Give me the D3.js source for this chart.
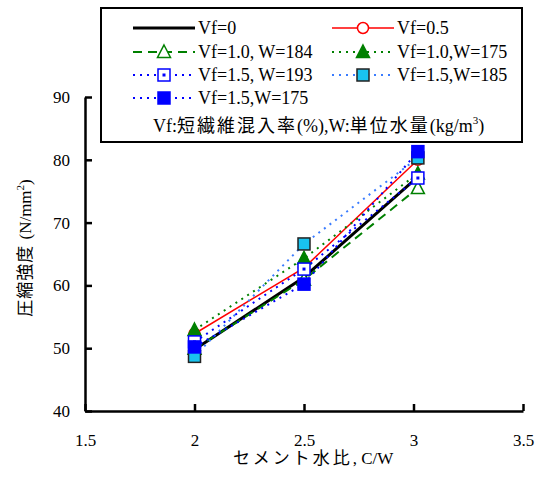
<!DOCTYPE html>
<html>
<head>
<meta charset="utf-8">
<script src="https://cdn.jsdelivr.net/npm/d3@7"></script>
<style>
body { margin: 0; background: #fff; }
text { font-family: "Liberation Serif", "Noto Sans CJK JP", serif; fill: #000; }
</style>
</head>
<body>
<svg class="chart" width="542" height="481"></svg>
<script>
// C/W values
var cw = [2.0, 2.5, 3.02];
var xTicks = [1.5, 2, 2.5, 3, 3.5];
var yTicks = [40, 50, 60, 70, 80, 90];

var seriesNames = ["Vf=0", "Vf=0.5", "Vf=1.0, W=184", "Vf=1.0,W=175", "Vf=1.5, W=193", "Vf=1.5,W=185", "Vf=1.5,W=175"];
var vf0      = [49.8, 61.3, 77.3];
var vf05     = [52.3, 62.8, 80.0];
var vf10w184 = [49.9, 60.9, 75.5];
var vf10w175 = [52.9, 64.3, 77.8];
var vf15w193 = [51.0, 62.6, 77.1];
var vf15w185 = [48.7, 66.6, 80.3];
var vf15w175 = [50.2, 60.2, 81.3];

var margin = {left: 85, right: 19, top: 97, bottom: 70};
var width = 542 - margin.left - margin.right;
var height = 481 - margin.top - margin.bottom;

var x = d3.scaleLinear().domain([1.5, 3.5]).range([0, width]);
var y = d3.scaleLinear().domain([40, 90]).range([height, 0]);

var styles = [
	{data: vf0,      color: "#000", width: 3,   dash: null,  marker: "none"},
	{data: vf05,     color: "#ff0000", width: 1.5, dash: null, marker: "circle", fill: "#fff"},
	{data: vf10w184, color: "#008000", width: 2, dash: "9,6", marker: "triangle", fill: "#fff"},
	{data: vf10w175, color: "#008000", width: 2, dash: "2,5", marker: "triangle", fill: "#008000"},
	{data: vf15w193, color: "#0000ff", width: 2, dash: "2,5", marker: "squareDot", fill: "#fff"},
	{data: vf15w185, color: "#3a7cff", width: 2, dash: "2,5", marker: "square", fill: "#19c3ef", stroke: "#222"},
	{data: vf15w175, color: "#0000ff", width: 2, dash: "2,5", marker: "square", fill: "#0000ff"}
];

var chart = d3.select(".chart");
var g = chart.append("g").attr("transform", "translate(" + margin.left + "," + margin.top + ")");

function drawMarker(sel, s, cx, cy) {
	if (s.marker == "circle") {
		sel.append("circle").attr("cx", cx).attr("cy", cy).attr("r", 5.5)
			.attr("fill", s.fill).attr("stroke", s.color).attr("stroke-width", 1.5);
	} else if (s.marker == "triangle") {
		sel.append("path")
			.attr("d", "M" + cx + "," + (cy - 7) + "L" + (cx + 6.5) + "," + (cy + 5.5) + "L" + (cx - 6.5) + "," + (cy + 5.5) + "Z")
			.attr("fill", s.fill).attr("stroke", s.color).attr("stroke-width", 1.5);
	} else if (s.marker == "square" || s.marker == "squareDot") {
		sel.append("rect").attr("x", cx - 6).attr("y", cy - 6).attr("width", 12).attr("height", 12)
			.attr("fill", s.fill).attr("stroke", s.stroke || s.color).attr("stroke-width", 1.5);
		if (s.marker == "squareDot") {
			sel.append("rect").attr("x", cx - 1.5).attr("y", cy - 1.5).attr("width", 3).attr("height", 3)
				.attr("fill", s.color);
		}
	}
}

var line = d3.line()
	.x(function(d, i) { return x(cw[i]); })
	.y(function(d) { return y(d); });

styles.forEach(function(s) {
	g.append("path")
		.attr("d", line(s.data))
		.attr("fill", "none")
		.attr("stroke", s.color)
		.attr("stroke-width", s.width)
		.attr("stroke-dasharray", s.dash);
});
styles.forEach(function(s) {
	s.data.forEach(function(d, i) { drawMarker(g, s, x(cw[i]), y(d)); });
});

// axes
var yAxis = g.append("g")
	.call(d3.axisLeft(y).tickValues(yTicks).tickSizeInner(-7).tickSizeOuter(0).tickPadding(15));
var xAxis = g.append("g")
	.attr("transform", "translate(0," + height + ")")
	.call(d3.axisBottom(x).tickValues(xTicks).tickFormat(d3.format("")).tickSizeInner(-7).tickSizeOuter(0).tickPadding(23));
[xAxis, yAxis].forEach(function(a) {
	a.select(".domain").attr("stroke", "#000").attr("stroke-width", 2.5);
	a.selectAll(".tick line").attr("stroke", "#000").attr("stroke-width", 2.5);
	a.selectAll("text").style("font-size", "17px").style("font-family", "Liberation Serif");
});

var xt = chart.append("text")
	.attr("x", 233).attr("y", 464)
	.style("font-size", "17px");
xt.append("tspan").style("letter-spacing", "3px").text("セメント水比");
xt.append("tspan").text(", C/W");

var yt = chart.append("text")
	.attr("transform", "translate(31,248) rotate(-90)")
	.attr("text-anchor", "middle")
	.style("font-size", "17px");
yt.append("tspan").style("letter-spacing", "1px").text("圧縮強度 ");
yt.append("tspan").text("(N/mm");
yt.append("tspan").attr("dy", -7).style("font-size", "11px").text("2");
yt.append("tspan").attr("dy", 7).text(")");

// legend
var leg = chart.append("g");
leg.append("rect")
	.attr("x", 101).attr("y", 8).attr("width", 421).attr("height", 134)
	.attr("fill", "#fff").attr("stroke", "#000").attr("stroke-width", 2);

var legPos = [[0, 0], [1, 0], [0, 1], [1, 1], [0, 2], [1, 2], [0, 3]];
var colX = [133, 332];
var rowY = [28, 52, 75, 98];
styles.forEach(function(s, i) {
	var lx = colX[legPos[i][0]], ly = rowY[legPos[i][1]];
	leg.append("line")
		.attr("x1", lx).attr("x2", lx + 62).attr("y1", ly).attr("y2", ly)
		.attr("stroke", s.color).attr("stroke-width", s.width).attr("stroke-dasharray", s.dash);
	drawMarker(leg, s, lx + 31, ly);
	leg.append("text")
		.attr("x", lx + 65).attr("y", ly + 6)
		.style("font-size", "18px")
		.text(seriesNames[i]);
});

var note = leg.append("text")
	.attr("x", 153).attr("y", 132)
	.style("font-size", "18px");
note.append("tspan").text("Vf:");
note.append("tspan").style("letter-spacing", "2px").text("短繊維混入率");
note.append("tspan").text("(%),W:");
note.append("tspan").style("letter-spacing", "2px").text("単位水量");
note.append("tspan").text("(kg/m");
note.append("tspan").attr("dy", -8).style("font-size", "11px").text("3");
note.append("tspan").attr("dy", 8).text(")");
</script>
</body>
</html>
